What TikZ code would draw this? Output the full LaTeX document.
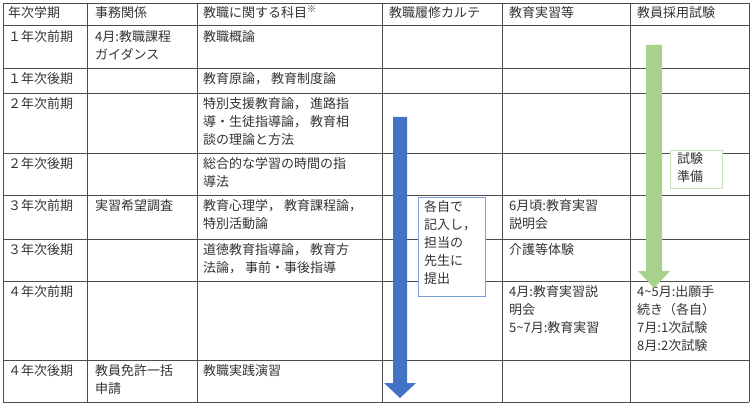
\documentclass[tikz,border=0pt]{standalone}
\usepackage{fontspec}
\setmainfont{Noto Sans CJK JP}
\begin{document}
\begin{tikzpicture}[x=1pt,y=-1pt,
 cell/.style={anchor=north west,align=left,inner sep=0pt,font=\fontsize{13}{18}\selectfont,text=black!80},
 grid/.style={draw=black!70,line width=0.9pt}]
\useasboundingbox[fill=white] (0,0) rectangle (750,409);
\foreach \y in {3,25,68,93,153,195,239,281,360,402} \draw[grid] (3,\y) -- (749,\y);
\foreach \x in {3,87,197,382,502,630,749} \draw[grid] (\x,3) -- (\x,402);
% header
\node[cell] (h1) at (8,6) {年次学期};
\node[cell] (h2) at (95,6) {事務関係};
\node[cell] (h3) at (203,6) {教職に関する科目\textsuperscript{※}};
\node[cell] (h4) at (389,6) {教職履修カルテ};
\node[cell] (h5) at (509,6) {教育実習等};
\node[cell] (h6) at (637,6) {教員採用試験};
% col1
\node[cell] (r1) at (8,30) {１年次前期};
\node[cell] (r2) at (8,72) {１年次後期};
\node[cell] (r3) at (8,97) {２年次前期};
\node[cell] (r4) at (8,157) {２年次後期};
\node[cell] (r5) at (8,199) {３年次前期};
\node[cell] (r6) at (8,243) {３年次後期};
\node[cell] (r7) at (8,285) {４年次前期};
\node[cell] (r8) at (8,364) {４年次後期};
% col2
\node[cell] (a1) at (95,30) {4月:教職課程\\ガイダンス};
\node[cell] (a5) at (95,199) {実習希望調査};
\node[cell] (a8) at (95,364) {教員免許一括\\申請};
% col3
\node[cell] (b1) at (203,30) {教職概論};
\node[cell] (b2) at (203,72) {教育原論，\ 教育制度論};
\node[cell] (b3) at (203,97) {特別支援教育論，\ 進路指\\導・生徒指導論，\ 教育相\\談の理論と方法};
\node[cell] (b4) at (203,157) {総合的な学習の時間の指\\導法};
\node[cell] (b5) at (203,199) {教育心理学，\ 教育課程論，\\特別活動論};
\node[cell] (b6) at (203,243) {道徳教育指導論，\ 教育方\\法論，\ 事前・事後指導};
\node[cell] (b8) at (203,364) {教職実践演習};
% col5
\node[cell] (d5) at (509,199) {6月頃:教育実習\\説明会};
\node[cell] (d6) at (509,243) {介護等体験};
\node[cell] (d7) at (509,285) {4月:教育実習説\\明会\\5\textasciitilde7月:教育実習};
% col6
\node[cell] (e7) at (637,285) {4\textasciitilde5月:出願手\\続き（各自）\\7月:1次試験\\8月:2次試験};
% arrows
\coordinate (bt) at (400,117); \coordinate (bb) at (400,398);
\fill[fill={rgb,255:red,68;green,114;blue,196}] (393,117) -- (407,117) -- (407,383) -- (416,383) -- (bb) -- (384,383) -- (393,383) -- cycle;
\coordinate (gt) at (654,45); \coordinate (gb) at (654,288);
\fill[fill={rgb,255:red,169;green,209;blue,142}] (646,45) -- (662,45) -- (662,271) -- (670,271) -- (gb) -- (638,271) -- (646,271) -- cycle;
% callouts
\node[draw={rgb,255:red,120;green,160;blue,210},fill=white,line width=0.6pt,minimum width=67pt,minimum height=99pt,anchor=north west,inner sep=0pt] (k) at (418,197) {};
\node[cell] (kt) at (424,200) {各自で\\記入し，\\担当の\\先生に\\提出};
\node[draw={rgb,255:red,200;green,225;blue,190},fill=white,line width=0.6pt,minimum width=52pt,minimum height=38pt,anchor=north west,inner sep=0pt] (s) at (670,150) {};
\node[cell] (st) at (677,152) {試験\\準備};
\end{tikzpicture}
\end{document}
